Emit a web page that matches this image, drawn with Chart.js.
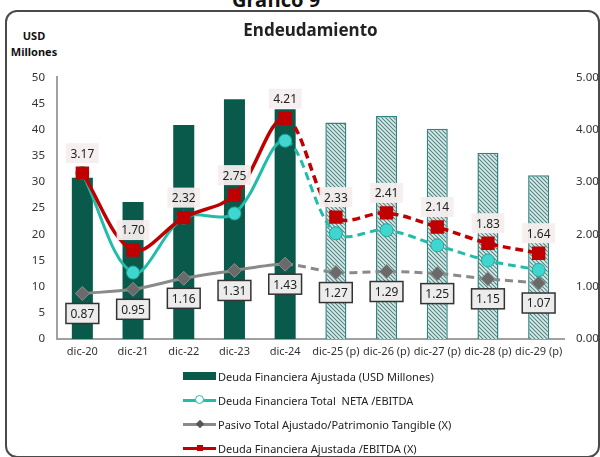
<!DOCTYPE html>
<html>
<head>
<meta charset="utf-8">
<script src="https://cdn.jsdelivr.net/npm/chart.js@4"></script>
<style>
  body { margin: 0; background: #fff; font-family: "Noto Sans", sans-serif; }
  #wrap { position: relative; width: 600px; height: 457px; overflow: hidden; }
  #frame { position: absolute; left: 5px; top: 10px; width: 591px; height: 444px; z-index: 5; pointer-events: none;
           border: 2px solid #4a4a4a; border-radius: 12px; }
  #grafico { position: absolute; top: -14px; left: 232px; font: bold 20px "Noto Sans", sans-serif; color: #111; }
  #unit { position: absolute; left: 9px; top: 28px; width: 50px; text-align: center;
          font: bold 11px "Noto Sans", sans-serif; line-height: 16px; color: #111; }
  #box { position: absolute; left: 0; top: 0; width: 600px; height: 370px; }
  #legend { position: absolute; left: 183px; top: 364px; font-size: 11px; color: #222; }
  .row { height: 24px; display: flex; align-items: center; }
  .sw { width: 33px; height: 12px; position: relative; margin-right: 2px; }
</style>
</head>
<body>
<div id="wrap">
  <div id="frame"></div>
  <div id="grafico">Gráfico 9</div>
  <div id="unit">USD<br>Millones</div>
  <div id="box"><canvas id="chart"></canvas></div>
  <div id="legend"></div>
</div>
<script>
const labels = ['dic-20', 'dic-21', 'dic-22', 'dic-23', 'dic-24', 'dic-25 (p)', 'dic-26 (p)', 'dic-27 (p)', 'dic-28 (p)', 'dic-29 (p)'];
const deudaAjustada = [30.8, 26.2, 40.9, 45.8, 43.9, 41.4, 42.6, 40.2, 35.6, 31.3];
const deudaNetaEbitda = [3.17, 1.27, 2.32, 2.40, 3.79, 2.02, 2.08, 1.79, 1.50, 1.32];
const pasivoPatrimonio = [0.87, 0.95, 1.16, 1.31, 1.43, 1.27, 1.29, 1.25, 1.15, 1.07];
const deudaAjustadaEbitda = [3.17, 1.70, 2.32, 2.75, 4.21, 2.33, 2.41, 2.14, 1.83, 1.64];
const firstProjected = 5;

const GREEN = '#0a5a4c';
const TEAL = '#22bcaa';
const RED = '#c00000';
const GRAY = '#8a8a8a';

// patrón rayado para las barras proyectadas
function hatch() {
    const c = document.createElement('canvas');
    c.width = 4; c.height = 4;
    const g = c.getContext('2d');
    g.fillStyle = '#dcecea';
    g.fillRect(0, 0, 4, 4);
    g.strokeStyle = '#4f8683';
    g.lineWidth = 1.1;
    g.beginPath();
    g.moveTo(-1, -1); g.lineTo(5, 5);
    g.moveTo(-1, 3); g.lineTo(1, 5);
    g.moveTo(3, -1); g.lineTo(5, 1);
    g.stroke();
    return g.createPattern(c, 'repeat');
}
const pattern = hatch();

const dashed = ctx => ctx.p0DataIndex >= firstProjected - 1 ? [8, 5] : undefined;

// etiquetas de datos dibujadas a mano
const valueLabels = {
    id: 'valueLabels',
    afterDatasetsDraw(chart) {
        const ctx = chart.ctx;
        chart.data.datasets.forEach((ds, i) => {
            if (!ds.tag) return;
            const meta = chart.getDatasetMeta(i);
            meta.data.forEach((pt, j) => {
                const txt = ds.data[j].toFixed(2);
                ctx.save();
                ctx.font = '12px "Noto Sans", sans-serif';
                const w = ctx.measureText(txt).width + 9;
                const h = 20;
                let cy;
                if (ds.tag === 'above') {
                    cy = pt.y - 20;
                    ctx.fillStyle = 'rgba(246,238,238,0.95)';
                    ctx.fillRect(pt.x - w / 2, cy - h / 2, w, h);
                } else {
                    cy = pt.y + 20;
                    ctx.fillStyle = '#ececec';
                    ctx.strokeStyle = '#333';
                    ctx.lineWidth = 1.5;
                    ctx.fillRect(pt.x - w / 2, cy - h / 2, w, h);
                    ctx.strokeRect(pt.x - w / 2, cy - h / 2, w, h);
                }
                ctx.fillStyle = '#222';
                ctx.textAlign = 'center';
                ctx.textBaseline = 'middle';
                ctx.fillText(txt, pt.x, cy + 1);
                ctx.restore();
            });
        });
    }
};

const chart = new Chart(document.getElementById('chart'), {
    data: {
        labels: labels,
        datasets: [
            {
                type: 'bar',
                label: 'Deuda Financiera Ajustada (USD Millones)',
                data: deudaAjustada,
                yAxisID: 'y',
                order: 3,
                backgroundColor: labels.map((l, i) => i < firstProjected ? GREEN : pattern),
                borderColor: labels.map((l, i) => i < firstProjected ? GREEN : '#2e8584'),
                borderWidth: labels.map((l, i) => i < firstProjected ? 0 : 1.5),
                barPercentage: 0.5,
                categoryPercentage: 0.83
            },
            {
                type: 'line',
                label: 'Deuda Financiera Total  NETA /EBITDA',
                data: deudaNetaEbitda,
                yAxisID: 'y1',
                order: 1,
                borderColor: TEAL,
                borderWidth: 3,
                tension: 0.35,
                pointStyle: 'circle',
                pointRadius: 6.5,
                pointBackgroundColor: '#3fd6cf',
                pointBorderColor: '#1fa89c',
                pointBorderWidth: 1,
                segment: { borderDash: dashed }
            },
            {
                type: 'line',
                label: 'Pasivo Total Ajustado/Patrimonio Tangible (X)',
                data: pasivoPatrimonio,
                yAxisID: 'y1',
                order: 2,
                tag: 'below',
                borderColor: GRAY,
                borderWidth: 3,
                tension: 0.3,
                pointStyle: 'rectRot',
                pointRadius: 7,
                pointBackgroundColor: '#6a6a6a',
                pointBorderColor: '#8d8d8d',
                pointBorderWidth: 1,
                segment: { borderDash: dashed }
            },
            {
                type: 'line',
                label: 'Deuda Financiera Ajustada /EBITDA (X)',
                data: deudaAjustadaEbitda,
                yAxisID: 'y1',
                order: 0,
                tag: 'above',
                borderColor: RED,
                borderWidth: 3.5,
                tension: 0.35,
                pointStyle: 'rect',
                pointRadius: 7,
                pointBackgroundColor: RED,
                pointBorderColor: RED,
                segment: { borderDash: dashed }
            }
        ]
    },
    options: {
        responsive: true,
        maintainAspectRatio: false,
        animation: false,
        layout: { padding: 0 },
        plugins: {
            legend: { display: false },
            tooltip: { enabled: false },
            title: {
                display: true,
                fullSize: false,
                text: 'Endeudamiento',
                color: '#222',
                font: { family: '"Noto Sans", sans-serif', size: 17, weight: 'bold' },
                padding: { top: 21, bottom: 36 }
            }
        },
        scales: {
            x: {
                grid: { display: false, drawTicks: false },
                border: { display: true, color: '#a0a0a0', width: 2 },
                ticks: { color: '#333', font: { family: '"Noto Sans", sans-serif', size: 11 }, padding: 6, maxRotation: 0, autoSkip: false },
                afterFit: s => { s.height = 31; }
            },
            y: {
                position: 'left',
                min: 0, max: 50,
                grid: { display: false, drawTicks: false },
                border: { display: true, color: '#a0a0a0', width: 2 },
                ticks: { stepSize: 5, color: '#333', font: { family: '"Noto Sans", sans-serif', size: 11.5 }, padding: 12 },
                afterFit: s => { s.width = 57; }
            },
            y1: {
                position: 'right',
                min: 0, max: 5,
                grid: { display: false, drawTicks: false },
                border: { display: false },
                ticks: { stepSize: 1, color: '#333', font: { family: '"Noto Sans", sans-serif', size: 11.5 }, padding: 12,
                         callback: v => v.toFixed(2) },
                afterFit: s => { s.width = 36; }
            }
        }
    },
    plugins: [valueLabels]
});

// leyenda vertical
const legendEl = document.getElementById('legend');
chart.data.datasets.forEach(ds => {
    const row = document.createElement('div');
    row.className = 'row';
    const sw = document.createElement('div');
    sw.className = 'sw';
    if (ds.type === 'bar') {
        sw.innerHTML = '<div style="position:absolute;left:0;top:2px;width:33px;height:8px;background:' + GREEN + '"></div>';
    } else {
        let mark;
        if (ds.pointStyle === 'circle') mark = 'width:7px;height:7px;border-radius:50%;background:#fff;border:1.5px solid ' + ds.borderColor + ';left:12px;top:1px';
        else if (ds.pointStyle === 'rectRot') mark = 'width:6px;height:6px;transform:rotate(45deg);background:#555;left:14px;top:3px';
        else mark = 'width:6px;height:6px;background:' + ds.borderColor + ';left:14px;top:3px';
        sw.innerHTML = '<div style="position:absolute;left:0;top:5px;width:33px;height:3px;background:' + ds.borderColor + '"></div>' +
                       '<div style="position:absolute;' + mark + '"></div>';
    }
    row.appendChild(sw);
    const t = document.createElement('span');
    t.textContent = ds.label;
    t.style.whiteSpace = 'pre';
    row.appendChild(t);
    legendEl.appendChild(row);
});
</script>
</body>
</html>
